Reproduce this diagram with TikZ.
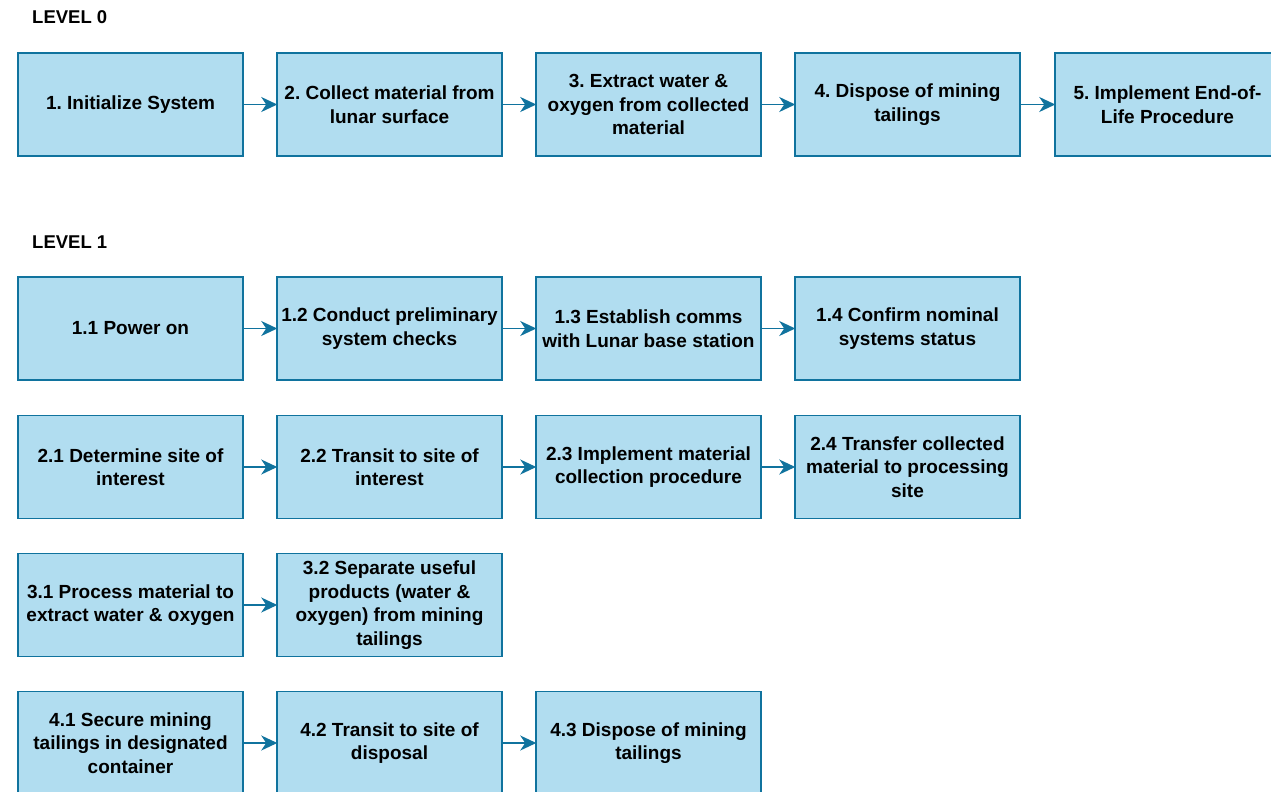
\documentclass[tikz,border=0pt]{standalone}
\usepackage{fontspec}
\setmainfont{Liberation Sans}
\usetikzlibrary{arrows.meta}
\definecolor{boxfill}{HTML}{B1DDF0}
\definecolor{boxline}{HTML}{10739E}
\tikzset{
  fbox/.style={draw=boxline, fill=boxfill, line width=1.5pt, minimum width=225pt, minimum height=103pt, inner sep=0pt, align=center, font=\fontsize{19}{23.5}\selectfont\bfseries, text=black},
  flow/.style={draw=boxline, line width=1.8pt, -{Stealth[length=16pt,width=15pt,inset=5pt]}, shorten >=-1pt},
  lvl/.style={anchor=west, inner sep=0pt, font=\fontsize{18.5}{22}\selectfont\bfseries, text=black}
}
\frenchspacing
\begin{document}
\begin{tikzpicture}[x=1pt,y=-1pt]
\useasboundingbox (0,0) rectangle (1271,792);
\clip (0,0) rectangle (1271,792);
\fill[white] (0,0) rectangle (1271,792);
\node[lvl] (l0) at (32,17.5) {LEVEL 0};
\node[lvl] (l1) at (32,242) {LEVEL 1};
% level 0
\node[fbox] (a1) at (130.5,104.5) {1. Initialize System};
\node[fbox] (a2) at (389.5,104.5) {2. Collect material from\\lunar surface};
\node[fbox] (a3) at (648.5,104.5) {3. Extract water \&\\oxygen from collected\\material};
\node[fbox] (a4) at (907.5,104.5) {4. Dispose of mining\\tailings};
\node[fbox] (a5) at (1167.5,104.5) {5. Implement End-of-\\Life Procedure};
\draw[flow] (a1) -- (a2);
\draw[flow] (a2) -- (a3);
\draw[flow] (a3) -- (a4);
\draw[flow] (a4) -- (a5);
% row 1
\node[fbox] (b1) at (130.5,328.5) {1.1 Power on};
\node[fbox] (b2) at (389.5,328.5) {1.2 Conduct preliminary\\system checks};
\node[fbox] (b3) at (648.5,328.5) {1.3 Establish comms\\with Lunar base station};
\node[fbox] (b4) at (907.5,328.5) {1.4 Confirm nominal\\systems status};
\draw[flow] (b1) -- (b2);
\draw[flow] (b2) -- (b3);
\draw[flow] (b3) -- (b4);
% row 2
\node[fbox] (c1) at (130.5,467) {2.1 Determine site of\\interest};
\node[fbox] (c2) at (389.5,467) {2.2 Transit to site of\\interest};
\node[fbox] (c3) at (648.5,467) {2.3 Implement material\\collection procedure};
\node[fbox] (c4) at (907.5,467) {2.4 Transfer collected\\material to processing\\site};
\draw[flow] (c1) -- (c2);
\draw[flow] (c2) -- (c3);
\draw[flow] (c3) -- (c4);
% row 3
\node[fbox] (d1) at (130.5,605) {3.1 Process material to\\extract water \& oxygen};
\node[fbox] (d2) at (389.5,605) {3.2 Separate useful\\products (water \&\\oxygen) from mining\\tailings};
\draw[flow] (d1) -- (d2);
% row 4
\node[fbox] (e1) at (130.5,743) {4.1 Secure mining\\tailings in designated\\container};
\node[fbox] (e2) at (389.5,743) {4.2 Transit to site of\\disposal};
\node[fbox] (e3) at (648.5,743) {4.3 Dispose of mining\\tailings};
\draw[flow] (e1) -- (e2);
\draw[flow] (e2) -- (e3);
\end{tikzpicture}
\end{document}
